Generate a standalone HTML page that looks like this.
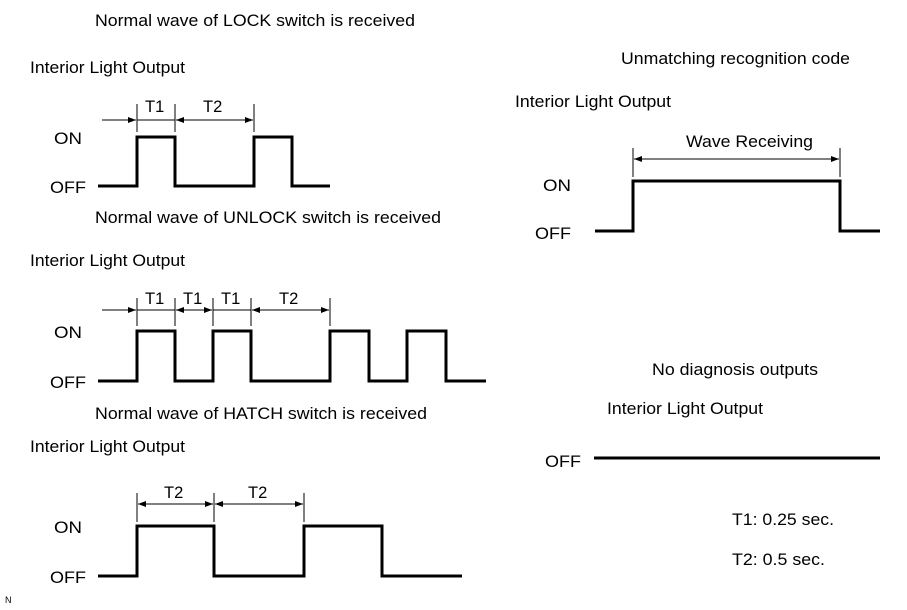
<!DOCTYPE html>
<html><head><meta charset="utf-8"><style>
body{margin:0;background:#fff}
svg{display:block}
text{font-family:"Liberation Sans",Arial,sans-serif;font-size:16.5px;fill:#000}
.w{fill:none;stroke:#000;stroke-width:3}
.d{stroke:#000;stroke-width:1}
</style></head><body>
<svg width="907" height="610" viewBox="0 0 907 610" xmlns="http://www.w3.org/2000/svg">
<defs><marker id="a" markerWidth="8" markerHeight="6" refX="8" refY="3" orient="auto-start-reverse" markerUnits="userSpaceOnUse"><path d="M0,0 L8,3 L0,6 z" fill="#000"/></marker></defs>

<text x="95" y="26" textLength="320" lengthAdjust="spacingAndGlyphs">Normal wave of LOCK switch is received</text>
<text x="30" y="73" textLength="155" lengthAdjust="spacingAndGlyphs">Interior Light Output</text>
<text x="54" y="144" textLength="28" lengthAdjust="spacingAndGlyphs">ON</text><text x="50" y="193" textLength="36" lengthAdjust="spacingAndGlyphs">OFF</text>
<path class="w" d="M98,186 H137 V137 H175 V186 H254 V137 H292 V186 H330"/>
<line class="d" x1="137" y1="104" x2="137" y2="132"/><line class="d" x1="175" y1="104" x2="175" y2="132"/><line class="d" x1="254" y1="104" x2="254" y2="132"/>
<line class="d" x1="102" y1="120" x2="136" y2="120" marker-end="url(#a)"/>
<line class="d" x1="137" y1="120" x2="175" y2="120"/>
<line class="d" x1="176" y1="120" x2="253" y2="120" marker-start="url(#a)" marker-end="url(#a)"/>
<text x="145" y="112">T1</text><text x="203" y="112">T2</text>

<text x="95" y="223" textLength="346" lengthAdjust="spacingAndGlyphs">Normal wave of UNLOCK switch is received</text>
<text x="30" y="266" textLength="155" lengthAdjust="spacingAndGlyphs">Interior Light Output</text>
<text x="54" y="338" textLength="28" lengthAdjust="spacingAndGlyphs">ON</text><text x="50" y="388" textLength="36" lengthAdjust="spacingAndGlyphs">OFF</text>
<path class="w" d="M98,381 H137 V331 H175 V381 H213 V331 H251 V381 H330 V331 H369 V381 H407 V331 H446 V381 H486"/>
<line class="d" x1="137" y1="298" x2="137" y2="326"/><line class="d" x1="175" y1="298" x2="175" y2="326"/><line class="d" x1="213" y1="298" x2="213" y2="326"/><line class="d" x1="251" y1="298" x2="251" y2="326"/><line class="d" x1="330" y1="298" x2="330" y2="326"/>
<line class="d" x1="102" y1="310" x2="136" y2="310" marker-end="url(#a)"/>
<line class="d" x1="137" y1="310" x2="175" y2="310"/>
<line class="d" x1="176" y1="310" x2="212" y2="310" marker-start="url(#a)" marker-end="url(#a)"/>
<line class="d" x1="213" y1="310" x2="251" y2="310"/>
<line class="d" x1="252" y1="310" x2="329" y2="310" marker-start="url(#a)" marker-end="url(#a)"/>
<text x="145" y="304">T1</text><text x="183" y="304">T1</text><text x="221" y="304">T1</text><text x="279" y="304">T2</text>

<text x="95" y="419" textLength="332" lengthAdjust="spacingAndGlyphs">Normal wave of HATCH switch is received</text>
<text x="30" y="452" textLength="155" lengthAdjust="spacingAndGlyphs">Interior Light Output</text>
<text x="54" y="533" textLength="28" lengthAdjust="spacingAndGlyphs">ON</text><text x="50" y="583" textLength="36" lengthAdjust="spacingAndGlyphs">OFF</text>
<path class="w" d="M98,576 H137 V526 H214 V576 H304 V526 H382 V576 H462"/>
<line class="d" x1="137" y1="493" x2="137" y2="522"/><line class="d" x1="214" y1="493" x2="214" y2="522"/><line class="d" x1="304" y1="493" x2="304" y2="522"/>
<line class="d" x1="138" y1="504" x2="213" y2="504" marker-start="url(#a)" marker-end="url(#a)"/>
<line class="d" x1="215" y1="504" x2="303" y2="504" marker-start="url(#a)" marker-end="url(#a)"/>
<text x="164" y="498">T2</text><text x="248" y="498">T2</text>

<text x="621" y="64" textLength="229" lengthAdjust="spacingAndGlyphs">Unmatching recognition code</text>
<text x="515" y="107" textLength="156" lengthAdjust="spacingAndGlyphs">Interior Light Output</text>
<text x="543" y="191" textLength="28" lengthAdjust="spacingAndGlyphs">ON</text><text x="535" y="239" textLength="36" lengthAdjust="spacingAndGlyphs">OFF</text>
<path class="w" d="M595,231 H633 V181 H840 V231 H880"/>
<line class="d" x1="633" y1="148" x2="633" y2="177"/><line class="d" x1="840" y1="148" x2="840" y2="177"/>
<line class="d" x1="634" y1="159" x2="839" y2="159" marker-start="url(#a)" marker-end="url(#a)"/>
<text x="686" y="147" textLength="127" lengthAdjust="spacingAndGlyphs">Wave Receiving</text>

<text x="652" y="375" textLength="166" lengthAdjust="spacingAndGlyphs">No diagnosis outputs</text>
<text x="607" y="414" textLength="156" lengthAdjust="spacingAndGlyphs">Interior Light Output</text>
<text x="545" y="467" textLength="36" lengthAdjust="spacingAndGlyphs">OFF</text>
<line x1="594" y1="458" x2="880" y2="458" stroke="#000" stroke-width="3"/>
<text x="732" y="525" textLength="102" lengthAdjust="spacingAndGlyphs">T1: 0.25 sec.</text>
<text x="732" y="565" textLength="93" lengthAdjust="spacingAndGlyphs">T2: 0.5 sec.</text>
<text x="5" y="603" style="font-size:9px">N</text>
</svg>
</body></html>
